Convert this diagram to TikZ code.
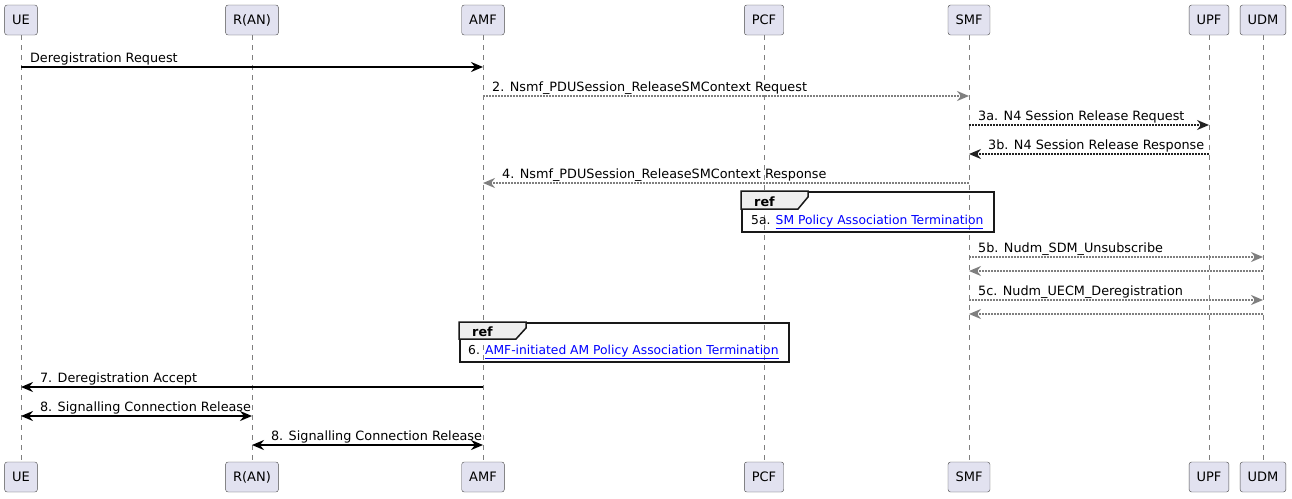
\documentclass[tikz,border=0pt]{standalone}
\usepackage{fontspec}
\setmainfont{DejaVu Sans}
\usetikzlibrary{arrows.meta}

\definecolor{partfill}{HTML}{E2E2F0}
\definecolor{partline}{HTML}{4A4A4A}
\definecolor{msggray}{HTML}{7F7F7F}
\definecolor{msgdark}{HTML}{222222}
\definecolor{tabfill}{HTML}{EEEEEE}
\definecolor{linkblue}{HTML}{0000FF}

\tikzset{
  part/.style={draw=partline, fill=partfill, rounded corners=2.5pt, minimum height=30pt,
    inner xsep=7.5pt, font=\fontsize{13}{15}\selectfont},
  life/.style={draw=msggray, line width=0.6pt, dash pattern=on 5pt off 5pt},
  tip/.style={-{Stealth[length=12pt,width=10pt,inset=4pt]}},
  sync/.style={tip, line width=2.2pt, draw=black},
  both/.style={{Stealth[length=12pt,width=10pt,inset=4pt]}-{Stealth[length=12pt,width=10pt,inset=4pt]}, line width=2.2pt, draw=black},
  reply/.style={tip, line width=2.4pt, draw=msggray, dash pattern=on 2pt off 1pt},
  darkreply/.style={tip, line width=2.4pt, draw=msgdark, dash pattern=on 2pt off 1pt},
  msg/.style={anchor=base west, inner sep=0pt, font=\fontsize{12.8}{14}\selectfont},
  reftext/.style={anchor=base west, inner sep=0pt, font=\fontsize{12.3}{14}\selectfont},
  refbox/.style={draw=black!90, line width=1.5pt, anchor=north west, inner sep=0pt},
  reftab/.style={draw=black!90, line width=1.5pt, fill=tabfill}
}

\begin{document}
\begin{tikzpicture}[x=1pt, y=-1pt]
\useasboundingbox (0,0) rectangle (1292,498);
% participants, top and bottom
\node[part] (ue) at (21,20) {UE};
\node[part] (ran) at (252,20) {R(AN)};
\node[part] (amf) at (483,20) {AMF};
\node[part] (pcf) at (764,20) {PCF};
\node[part] (smf) at (969,20) {SMF};
\node[part] (upf) at (1209,20) {UPF};
\node[part] (udm) at (1263,20) {UDM};
\node[part] (ueB) at (21,477) {UE};
\node[part] (ranB) at (252,477) {R(AN)};
\node[part] (amfB) at (483,477) {AMF};
\node[part] (pcfB) at (764,477) {PCF};
\node[part] (smfB) at (969,477) {SMF};
\node[part] (upfB) at (1209,477) {UPF};
\node[part] (udmB) at (1263,477) {UDM};
% lifelines
\draw[life] (ue) -- (ueB);
\draw[life] (ran) -- (ranB);
\draw[life] (amf) -- (amfB);
\draw[life] (pcf) -- (pcfB);
\draw[life] (smf) -- (smfB);
\draw[life] (upf) -- (upfB);
\draw[life] (udm) -- (udmB);
% messages
\draw[sync] (ue |- 0,67) -- node[msg, pos=0, xshift=8pt, yshift=5pt] {Deregistration Request} (amf |- 0,67);
\draw[reply] (amf |- 0,96) -- node[msg, pos=0, xshift=8pt, yshift=5pt] {2. Nsmf\_PDUSession\_ReleaseSMContext Request} (smf |- 0,96);
\draw[darkreply] (smf |- 0,125) -- node[msg, pos=0, xshift=8pt, yshift=5pt] {3a. N4 Session Release Request} (upf |- 0,125);
\draw[darkreply] (upf |- 0,154) -- node[msg, pos=1, xshift=18pt, yshift=5pt] {3b. N4 Session Release Response} (smf |- 0,154);
\draw[reply] (smf |- 0,183) -- node[msg, pos=1, xshift=18pt, yshift=5pt] {4. Nsmf\_PDUSession\_ReleaseSMContext Response} (amf |- 0,183);
% ref 5a
\node[refbox, minimum width=252pt, minimum height=40pt] (ref5a) at (741,191) {};
\draw[reftab] (ref5a.north west) -- ++(67,0) -- ++(0,6) -- ++(-10,12) -- ++(-57,0) -- cycle;
\node[reftext, font=\fontsize{12.8}{14}\selectfont\bfseries] (ref5aT) at (754,206) {ref};
\node[reftext] (ref5aL) at (751,224) {5a. \textcolor{linkblue}{\underline{SM Policy Association Termination}}};
\draw[reply] (smf |- 0,257) -- node[msg, pos=0, xshift=8pt, yshift=5pt] {5b. Nudm\_SDM\_Unsubscribe} (udm |- 0,257);
\draw[reply] (udm |- 0,271) -- (smf |- 0,271);
\draw[reply] (smf |- 0,300) -- node[msg, pos=0, xshift=8pt, yshift=5pt] {5c. Nudm\_UECM\_Deregistration} (udm |- 0,300);
\draw[reply] (udm |- 0,314) -- (smf |- 0,314);
% ref 6
\node[refbox, minimum width=329pt, minimum height=39pt] (ref6) at (459,322) {};
\draw[reftab] (ref6.north west) -- ++(67,0) -- ++(0,6) -- ++(-10,11) -- ++(-57,0) -- cycle;
\node[reftext, font=\fontsize{12.8}{14}\selectfont\bfseries] (ref6T) at (472,336) {ref};
\node[reftext] (ref6L) at (468,354) {6. \textcolor{linkblue}{\underline{AMF-initiated AM Policy Association Termination}}};
% accept and release
\draw[sync] (amf |- 0,387) -- node[msg, pos=1, xshift=18pt, yshift=5pt] {7. Deregistration Accept} (ue |- 0,387);
\draw[both] (ue |- 0,416) -- node[msg, pos=0, xshift=18pt, yshift=5pt] {8. Signalling Connection Release} (ran |- 0,416);
\draw[both] (ran |- 0,445) -- node[msg, pos=0, xshift=18pt, yshift=5pt] {8. Signalling Connection Release} (amf |- 0,445);
\end{tikzpicture}
\end{document}
